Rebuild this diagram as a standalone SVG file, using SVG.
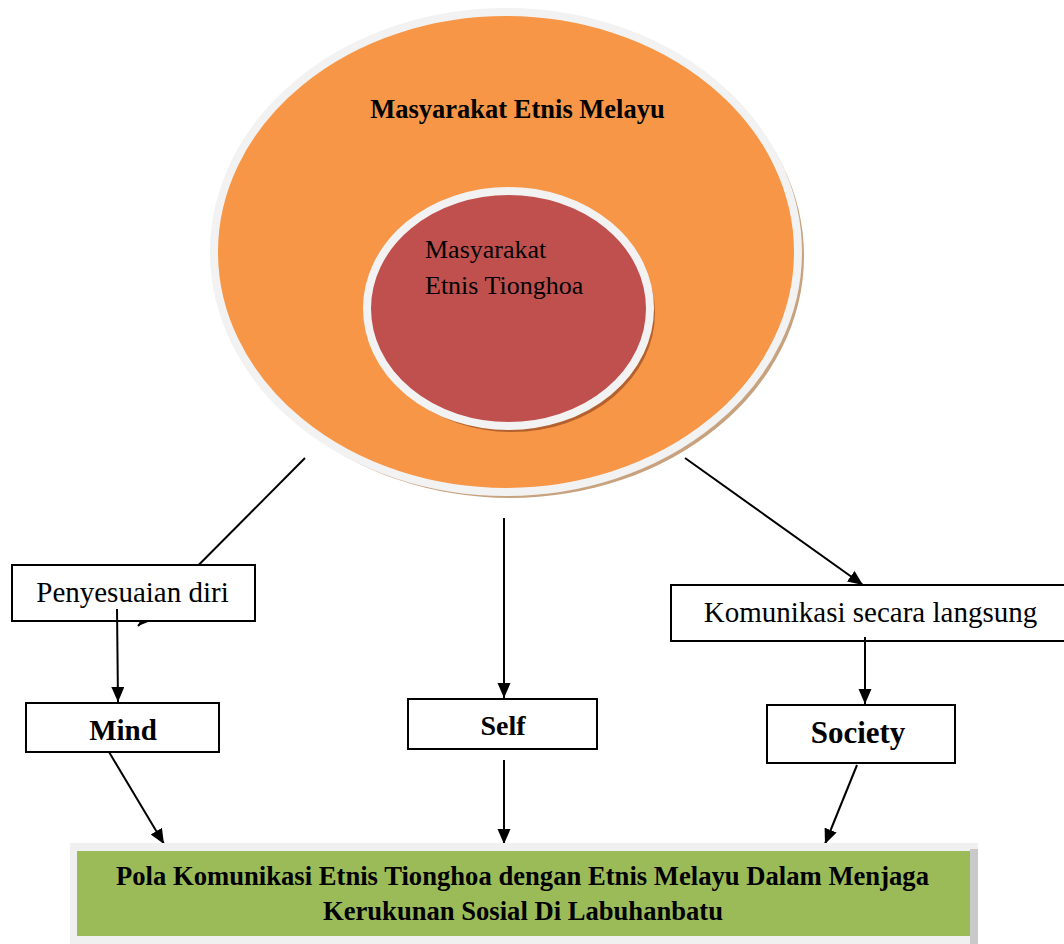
<svg xmlns="http://www.w3.org/2000/svg" width="1064" height="944" viewBox="0 0 1064 944">
<defs>
<marker id="arr" markerUnits="userSpaceOnUse" markerWidth="16" markerHeight="14" refX="15" refY="6.5" orient="auto">
<path d="M0,0 L15,6.5 L0,13 z" fill="#000"/>
</marker>
<style>
.t{font-family:"Liberation Serif","Times New Roman",serif;fill:#000}
.b{font-weight:bold}
.box{fill:#fff;stroke:#000;stroke-width:2}
.ln{stroke:#000;stroke-width:2;fill:none}
</style>
</defs>
<rect width="1064" height="944" fill="#fff"/>
<g id="outer-circle">
<ellipse cx="510" cy="256" rx="294" ry="242" fill="#C8A27E"/>
<ellipse cx="506" cy="252" rx="292" ry="240" fill="#F79646" stroke="#F2F2F2" stroke-width="8"/>
<text class="t b" x="517.5" y="118" font-size="26.5" text-anchor="middle">Masyarakat Etnis Melayu</text>
</g>
<g id="inner-circle">
<ellipse cx="512" cy="313" rx="143" ry="119" fill="#B4612E"/>
<ellipse cx="508.5" cy="308.5" rx="141.5" ry="117.5" fill="#C0504D" stroke="#F2F2F2" stroke-width="8"/>
<text class="t" x="425" y="258" font-size="26">Masyarakat</text>
<text class="t" x="425" y="294" font-size="26">Etnis Tionghoa</text>
</g>
<g id="connectors">
<line class="ln" x1="305" y1="458" x2="138" y2="626" marker-end="url(#arr)"/>
<line class="ln" x1="504" y1="518" x2="504" y2="698" marker-end="url(#arr)"/>
<line class="ln" x1="685" y1="458" x2="863" y2="585" marker-end="url(#arr)"/>
</g>
<g id="penyesuaian">
<rect class="box" x="12" y="565" width="243" height="56"/>
<text class="t" x="132.5" y="602" font-size="29" text-anchor="middle">Penyesuaian diri</text>
</g>
<g id="komunikasi">
<rect class="box" x="671" y="585" width="400" height="56"/>
<text class="t" x="870.5" y="622" font-size="29" text-anchor="middle">Komunikasi secara langsung</text>
</g>
<g id="connectors2">
<line class="ln" x1="117" y1="609" x2="118" y2="702" marker-end="url(#arr)"/>
<line class="ln" x1="865" y1="637" x2="865" y2="704" marker-end="url(#arr)"/>
<line class="ln" x1="109" y1="752" x2="164" y2="844" marker-end="url(#arr)"/>
<line class="ln" x1="504" y1="760" x2="504" y2="844" marker-end="url(#arr)"/>
<line class="ln" x1="857" y1="765" x2="825" y2="844" marker-end="url(#arr)"/>
</g>
<g id="mind">
<rect class="box" x="26" y="703" width="193" height="49"/>
<text class="t b" x="123" y="740" font-size="29" text-anchor="middle">Mind</text>
</g>
<g id="self">
<rect class="box" x="408" y="699" width="189" height="50"/>
<text class="t b" x="503" y="735" font-size="28" text-anchor="middle">Self</text>
</g>
<g id="society">
<rect class="box" x="767" y="705" width="188" height="58"/>
<text class="t b" x="858" y="743" font-size="31" text-anchor="middle">Society</text>
</g>
<g id="result">
<rect x="70" y="843" width="908" height="103" fill="#F0F0F0"/>
<rect x="970" y="849" width="8" height="95" fill="#C9C9C9"/>
<rect x="77" y="851" width="893" height="85" fill="#9BBB59"/>
<text class="t b" x="522.5" y="885" font-size="26.5" text-anchor="middle" textLength="813" lengthAdjust="spacingAndGlyphs">Pola Komunikasi Etnis Tionghoa dengan Etnis Melayu Dalam Menjaga</text>
<text class="t b" x="523" y="920" font-size="26.5" text-anchor="middle" textLength="400" lengthAdjust="spacingAndGlyphs">Kerukunan Sosial Di Labuhanbatu</text>
</g>
</svg>
